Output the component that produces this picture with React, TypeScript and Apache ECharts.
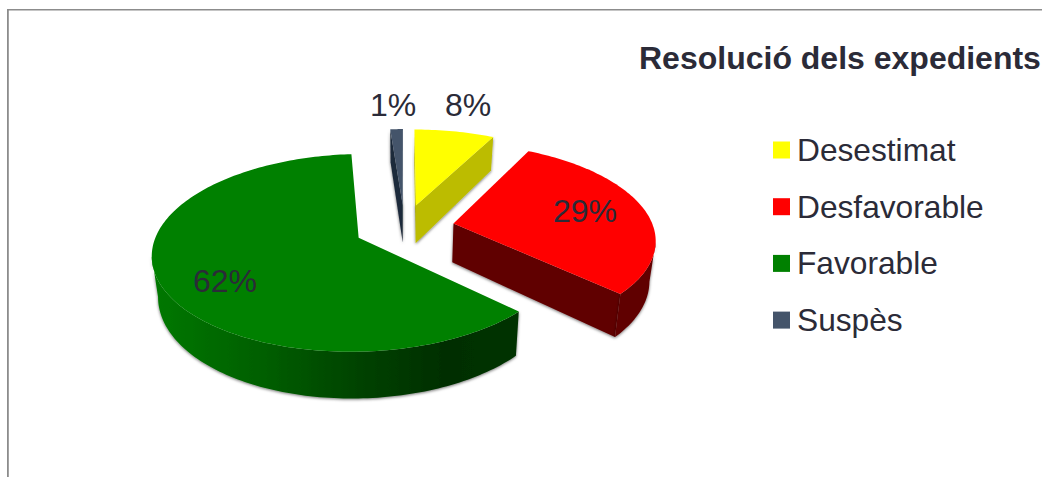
import React, { useEffect, useRef } from "react";
import * as echarts from "echarts";

const chartTitle = "Resolució dels expedients";
const categories = ["Desestimat", "Desfavorable", "Favorable", "Suspès"];
const shares = [7.6, 29.4, 61.8, 1.2];
const shareLabels = ["8%", "29%", "62%", "1%"];
const topColors = ["#ffff00", "#ff0000", "#008000", "#44546a"];
const sideColors = ["#bcbc00", "#600000", "#004000", "#1f2a3a"];
const labelSpots = [[468, 105], [585, 211], [225, 281], [393, 105]];

const FONT = '"Liberation Sans", Arial, sans-serif';
const INK = "#2b2b38";
const view = { cx: 404.5, cy: 227.5, rx: 200, ry: 93.5, k: 0.15, explode: 0.25, depth: 39, shrink: 0.975 };
const total = shares.reduce((a, b) => a + b, 0);

type P = [number, number];
const top = (u: number, v: number): P => {
  const w = 1 - view.k * v;
  return [view.cx + (view.rx * u) / w, view.cy + (view.ry * v) / w];
};
const bottom = (u: number, v: number): P => {
  const w = 1 - view.k * v;
  return [view.cx + ((view.rx * u) / w) * view.shrink, view.cy + (view.ry * v + view.depth) / w];
};

function slice(index: number) {
  const before = shares.slice(0, index).reduce((a, b) => a + b, 0);
  const a0 = (before / total) * Math.PI * 2;
  const a1 = ((before + shares[index]) / total) * Math.PI * 2;
  const mid = (a0 + a1) / 2;
  const ou = Math.sin(mid) * view.explode;
  const ov = -Math.cos(mid) * view.explode;
  const steps = Math.max(6, Math.ceil((a1 - a0) * 48));
  const rim: P[] = [];
  for (let i = 0; i <= steps; i++) {
    const a = a0 + ((a1 - a0) * i) / steps;
    rim.push([ou + Math.sin(a), ov - Math.cos(a)]);
  }
  return { ou, ov, rim };
}

function renderSlice(index: number) {
  return () => {
    const { ou, ov, rim } = slice(index);
    const shadow = { shadowBlur: 3, shadowColor: "rgba(0,0,0,0.55)", shadowOffsetY: 1 };
    const sideFill: any =
      index === 2
        ? new echarts.graphic.LinearGradient(0, 0, 1, 0, [
            { offset: 0, color: "#007800" },
            { offset: 0.3, color: "#005f00" },
            { offset: 0.55, color: "#004400" },
            { offset: 0.8, color: "#002e00" },
            { offset: 1, color: "#003300" },
          ])
        : sideColors[index];
    const children: any[] = [];

    const face = (u: number, v: number, fill: any) => {
      children.push({
        type: "polygon",
        shape: { points: [top(ou, ov), top(u, v), bottom(u, v), bottom(ou, ov)] },
        style: { fill, ...shadow },
      });
    };
    const first = rim[0];
    const last = rim[rim.length - 1];
    if (top(first[0], first[1])[0] < top(ou, ov)[0]) face(first[0], first[1], sideColors[index]);
    if (top(last[0], last[1])[0] > top(ou, ov)[0]) face(last[0], last[1], sideColors[index]);

    // the outer wall: only the stretch of the rim that faces the viewer
    const front: P[] = [];
    for (let i = 0; i < rim.length; i++) {
      const a = top(rim[i][0], rim[i][1]);
      const n = rim[Math.min(i + 1, rim.length - 1)];
      const p = rim[Math.max(i - 1, 0)];
      if (top(n[0], n[1])[0] < a[0] || top(p[0], p[1])[0] > a[0]) front.push(rim[i]);
    }
    if (front.length > 1) {
      children.push({
        type: "polygon",
        shape: {
          points: [
            ...front.map((q) => top(q[0], q[1])),
            ...front.slice().reverse().map((q) => bottom(q[0], q[1])),
          ],
        },
        style: { fill: sideFill, ...shadow },
      });
    }

    children.push({
      type: "polygon",
      shape: { points: [top(ou, ov), ...rim.map((q) => top(q[0], q[1]))] },
      style: { fill: topColors[index] },
    });
    children.push({
      type: "text",
      z2: 50,
      style: {
        text: shareLabels[index],
        x: labelSpots[index][0],
        y: labelSpots[index][1],
        align: "center",
        verticalAlign: "middle",
        fill: INK,
        font: `32px ${FONT}`,
      },
    });
    return { type: "group", children };
  };
}

export default function App() {
  const ref = useRef<HTMLDivElement>(null);
  useEffect(() => {
    const chart = echarts.init(ref.current!, undefined, { renderer: "svg" });
    chart.setOption({
      animation: false,
      backgroundColor: "#ffffff",
      title: {
        text: chartTitle,
        left: 639,
        top: 42,
        padding: 0,
        textStyle: { fontFamily: FONT, fontSize: 32, fontWeight: "bold", color: INK },
      },
      legend: {
        orient: "vertical",
        left: 773,
        top: 134,
        padding: 0,
        itemWidth: 17,
        itemHeight: 17,
        itemGap: 24.7,
        icon: "rect",
        selectedMode: false,
        data: categories,
        textStyle: { fontFamily: FONT, fontSize: 31.7, color: INK, lineHeight: 31, padding: [0, 0, 0, 2] },
      },
      graphic: [
        { type: "rect", silent: true, shape: { x: 7, y: 9, width: 1035, height: 1.6 }, style: { fill: "#8c8c8c" } },
        { type: "rect", silent: true, shape: { x: 7, y: 9, width: 1.8, height: 468 }, style: { fill: "#8c8c8c" } },
      ],
      series: categories.map((name, i) => ({
        type: "custom",
        name,
        coordinateSystem: "none",
        clip: false,
        silent: true,
        itemStyle: { color: topColors[i] },
        data: [shares[i]],
        renderItem: renderSlice(i),
      })),
    });
    return () => chart.dispose();
  }, []);
  return <div ref={ref} style={{ position: "fixed", left: 0, top: 0, width: 1042, height: 477 }} />;
}
